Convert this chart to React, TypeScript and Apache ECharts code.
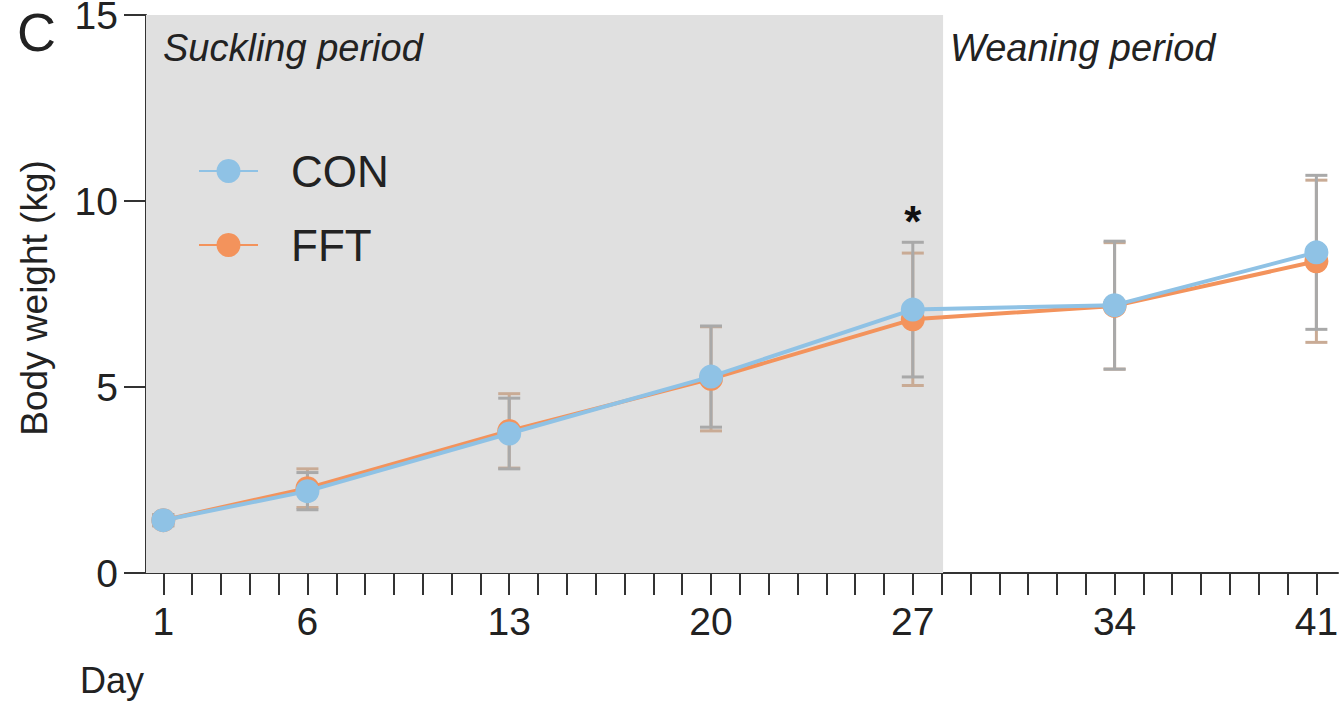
import React, { useEffect, useRef } from "react";
import * as echarts from "echarts";

const days = [1, 6, 13, 20, 27, 34, 41];
const conMean = [1.42, 2.2, 3.75, 5.28, 7.08, 7.2, 8.62];
const conSD = [0.15, 0.5, 0.95, 1.36, 1.81, 1.72, 2.07];
const fftMean = [1.42, 2.28, 3.82, 5.22, 6.82, 7.18, 8.38];
const fftSD = [0.15, 0.52, 1.0, 1.4, 1.78, 1.7, 2.18];
const xLabelDays = [1, 6, 13, 20, 27, 34, 41];
const xTickDays = Array.from({ length: 41 }, (_, i) => i + 1);
const yTicks = [0, 5, 10, 15];
const sucklingEnd = 28.05;
const starDay = 27;
const starValue = 9.45;

const FONT = "'Liberation Sans', Arial, Helvetica, sans-serif";
const CON_COLOR = "#8fc2e5";
const FFT_COLOR = "#f3935c";
const CON_ERR = "#a9a9a9";
const FFT_ERR = "#c9ab95";

function errorSeries(name: string, means: number[], sds: number[], color: string, z: number) {
  return {
    name: name + " SD",
    type: "custom",
    z,
    silent: true,
    data: days.map((d, i) => [d, means[i], sds[i]]),
    encode: { x: 0, y: 1 },
    renderItem: (_params: any, api: any) => {
      const x = api.value(0);
      const m = api.value(1);
      const sd = api.value(2);
      const top = api.coord([x, m + sd]);
      const bot = api.coord([x, m - sd]);
      const hw = 11;
      const style = { stroke: color, lineWidth: 3 };
      return {
        type: "group",
        children: [
          { type: "line", shape: { x1: top[0], y1: top[1], x2: bot[0], y2: bot[1] }, style },
          { type: "line", shape: { x1: top[0] - hw, y1: top[1], x2: top[0] + hw, y2: top[1] }, style },
          { type: "line", shape: { x1: bot[0] - hw, y1: bot[1], x2: bot[0] + hw, y2: bot[1] }, style },
        ],
      };
    },
  };
}

export default function App() {
  const ref = useRef<HTMLDivElement>(null);
  useEffect(() => {
    if (!ref.current) return;
    const chart = echarts.init(ref.current, null, { renderer: "svg" });
    const axisColor = "#333333";
    chart.setOption({
      animation: false,
      backgroundColor: "#ffffff",
      textStyle: { fontFamily: FONT },
      grid: { left: 146, right: 4, top: 15, bottom: 128, containLabel: false, outerBoundsMode: "none" },
      legend: {
        data: ["CON", "FFT"],
        orient: "vertical",
        left: 198,
        top: 149,
        padding: 0,
        itemWidth: 59,
        itemHeight: 30,
        itemGap: 30,
        textStyle: { fontSize: 44, color: "#222", lineHeight: 44, fontFamily: FONT, padding: [0, 0, 0, 28] },
      },
      xAxis: {
        type: "value",
        min: 0.4,
        max: 41.75,
        splitLine: { show: false },
        axisLine: { show: true, lineStyle: { color: axisColor, width: 2 } },
        axisTick: { show: true, length: 22, lineStyle: { color: axisColor, width: 2 }, customValues: xTickDays },
        axisLabel: { fontSize: 39, color: "#222", margin: 29, fontFamily: FONT, customValues: xLabelDays },
      },
      yAxis: {
        type: "value",
        min: 0,
        max: 15,
        interval: 5,
        splitLine: { show: false },
        axisLine: { show: true, lineStyle: { color: axisColor, width: 2 } },
        axisTick: { show: true, length: 22, lineStyle: { color: axisColor, width: 2 } },
        axisLabel: { fontSize: 39, color: "#222", margin: 28, fontFamily: FONT, customValues: yTicks },
      },
      graphic: [
        { type: "text", z: 100, left: 17, top: 5, style: { text: "C", fontSize: 54, fill: "#222", fontFamily: FONT } },
        {
          type: "text",
          z: 100,
          x: 34,
          y: 298,
          rotation: Math.PI / 2,
          style: { text: "Body weight (kg)", fontSize: 37, fill: "#222", fontFamily: FONT, align: "center", verticalAlign: "middle" },
        },
        { type: "text", z: 100, x: 80, y: 680, style: { text: "Day", fontSize: 36, fill: "#222", fontFamily: FONT, verticalAlign: "middle" } },
        {
          type: "text",
          z: 100,
          x: 163,
          y: 48,
          style: { text: "Suckling period", fontSize: 38, fontStyle: "italic", fill: "#222", fontFamily: FONT, verticalAlign: "middle" },
        },
        {
          type: "text",
          z: 100,
          x: 950,
          y: 48,
          style: { text: "Weaning period", fontSize: 38, fontStyle: "italic", fill: "#222", fontFamily: FONT, verticalAlign: "middle" },
        },
      ],
      series: [
        {
          name: "period",
          type: "line",
          z: 0,
          silent: true,
          showSymbol: false,
          data: [[0.4, 0]],
          lineStyle: { opacity: 0 },
          markArea: {
            silent: true,
            itemStyle: { color: "#e0e0e0" },
            data: [[{ xAxis: 0.4, yAxis: 0 }, { xAxis: sucklingEnd, yAxis: 15 }]],
          },
        },
        errorSeries("FFT", fftMean, fftSD, FFT_ERR, 2),
        errorSeries("CON", conMean, conSD, CON_ERR, 3),
        {
          name: "FFT",
          type: "line",
          z: 4,
          data: days.map((d, i) => [d, fftMean[i]]),
          symbol: "circle",
          symbolSize: 24,
          itemStyle: { color: FFT_COLOR },
          lineStyle: { color: FFT_COLOR, width: 4 },
        },
        {
          name: "CON",
          type: "line",
          z: 5,
          data: days.map((d, i) => [d, conMean[i]]),
          symbol: "circle",
          symbolSize: 24,
          itemStyle: { color: CON_COLOR },
          lineStyle: { color: CON_COLOR, width: 4 },
          markPoint: {
            silent: true,
            symbol: "circle",
            symbolSize: 0,
            data: [{ coord: [starDay, starValue], value: "*" }],
            label: { show: true, formatter: "*", fontSize: 44, fontWeight: "bold", color: "#111", fontFamily: FONT, position: "inside" },
          },
        },
      ],
    });
    return () => chart.dispose();
  }, []);
  return <div ref={ref} style={{ position: "fixed", left: 0, top: 0, width: 1342, height: 701 }} />;
}
